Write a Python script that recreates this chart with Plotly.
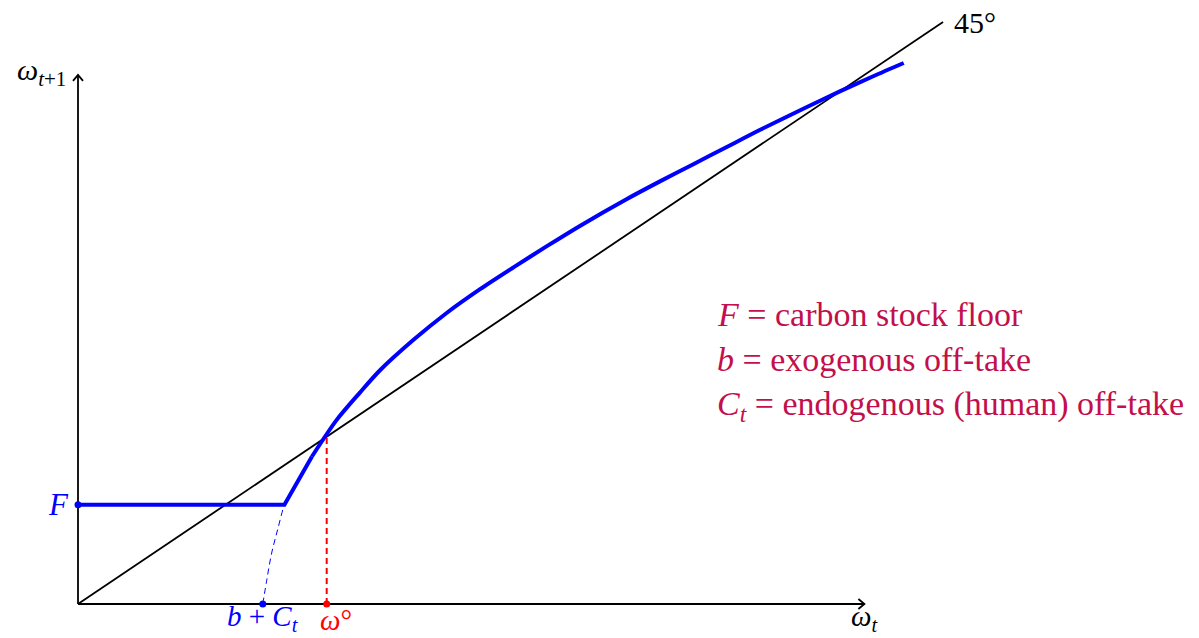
import plotly.graph_objects as go

# ---------------- data (model units) ----------------
F_floor = 1.5            # carbon stock floor F
b_plus_C = 1.88          # b + C_t
omega_star = 2.53        # steady state omega°
axis_len = 8.0
diag_end = 8.8

# blue transition map omega_{t+1} = f(omega_t)
omega_t = [0.0, 2.10, 2.38, 2.63, 2.87, 3.07, 3.41, 3.75, 4.09, 4.43, 4.77,
           5.11, 5.58, 5.92, 6.26, 6.60, 6.94, 7.41, 7.75, 8.09, 8.40]
omega_next = [1.50, 1.50, 2.23, 2.78, 3.20, 3.53, 3.99, 4.40, 4.76, 5.09, 5.41,
              5.72, 6.12, 6.39, 6.65, 6.91, 7.17, 7.51, 7.75, 7.98, 8.18]

# thin dashed continuation below the floor
dash_x = [1.88, 1.92, 1.97, 2.03, 2.09, 2.10]
dash_y = [0.00, 0.36, 0.77, 1.12, 1.46, 1.50]

legend_lines = ["<i>F</i> = carbon stock floor",
                "<i>b</i> = exogenous off-take",
                "<i>C<sub>t</sub></i> = endogenous (human) off-take"]

# ---------------- geometry of the canvas ----------------
W, H = 1199, 638
ox, oy = 78, 604          # pixel position of origin
sx, sy = 98.3, 66.14      # pixels per unit


def px2x(p):
    return (p - ox) / sx


def py2y(p):
    return (oy - p) / sy


BLUE = "#0000FF"
RED = "#FF0000"
CRIM = "rgb(195,15,75)"
FONT = "Liberation Serif"

fig = go.Figure()
LW = 1.8

# axes
fig.add_trace(go.Scatter(x=[0, axis_len], y=[0, 0], mode="lines",
                         line=dict(color="black", width=LW), hoverinfo="skip"))
fig.add_trace(go.Scatter(x=[0, 0], y=[0, axis_len], mode="lines",
                         line=dict(color="black", width=LW), hoverinfo="skip"))
# arrow tips
ax_, ay_ = 6 / sx, 5 / sy
fig.add_trace(go.Scatter(x=[axis_len - ax_, axis_len, axis_len - ax_],
                         y=[ay_, 0, -ay_], mode="lines",
                         line=dict(color="black", width=LW), hoverinfo="skip"))
bx_, by_ = 5 / sx, 6 / sy
fig.add_trace(go.Scatter(x=[-bx_, 0, bx_],
                         y=[axis_len - by_, axis_len, axis_len - by_], mode="lines",
                         line=dict(color="black", width=LW), hoverinfo="skip"))

# 45 degree line
fig.add_trace(go.Scatter(x=[0, diag_end], y=[0, diag_end], mode="lines",
                         line=dict(color="black", width=LW), hoverinfo="skip"))

# red dashed vertical at omega°
fig.add_trace(go.Scatter(x=[omega_star, omega_star], y=[0, omega_star], mode="lines",
                         line=dict(color=RED, width=2, dash="6px,4px"), hoverinfo="skip"))

# blue dashed thin arc
fig.add_trace(go.Scatter(x=dash_x, y=dash_y, mode="lines", line_shape="spline",
                         line=dict(color=BLUE, width=1, dash="6px,4px"), hoverinfo="skip"))

# blue main curve: straight floor + first segment, then smooth part
fig.add_trace(go.Scatter(x=omega_t[:3], y=omega_next[:3], mode="lines",
                         line=dict(color=BLUE, width=4), hoverinfo="skip"))
fig.add_trace(go.Scatter(x=omega_t[2:], y=omega_next[2:], mode="lines",
                         line_shape="spline",
                         line=dict(color=BLUE, width=4, smoothing=0.8), hoverinfo="skip"))

# dots
fig.add_trace(go.Scatter(x=[0, b_plus_C], y=[F_floor, 0], mode="markers",
                         marker=dict(color=BLUE, size=7), hoverinfo="skip"))
fig.add_trace(go.Scatter(x=[omega_star], y=[0], mode="markers",
                         marker=dict(color=RED, size=7), hoverinfo="skip"))

ann = []


def label(text, x, y, size, color="black", xanchor="center", yanchor="middle"):
    ann.append(dict(text=text, x=x, y=y, xref="x", yref="y", showarrow=False,
                    xanchor=xanchor, yanchor=yanchor, borderpad=0,
                    font=dict(family=FONT, size=size, color=color)))


label("45°", px2x(953), py2y(22), 30, xanchor="left")
label("<i>ω</i><sub><i>t</i>+1</sub>", px2x(67), py2y(72), 30, xanchor="right")
label("<i>ω</i><sub><i>t</i></sub>", px2x(864), py2y(637), 29, yanchor="bottom")
label("<i>F</i>", px2x(70), F_floor, 31, color=BLUE, xanchor="right")
label("<i>b</i> + <i>C<sub>t</sub></i>", b_plus_C, py2y(637), 29, color=BLUE, yanchor="bottom")
label("<i>ω</i>°", omega_star + 0.09, py2y(637), 29, color=RED, yanchor="bottom")

for i, t in enumerate(legend_lines):
    label(t, px2x(716), py2y([314, 359, 406][i]), 34, color=CRIM, xanchor="left")

fig.update_layout(
    width=W, height=H,
    margin=dict(l=0, r=0, t=0, b=0),
    paper_bgcolor="white", plot_bgcolor="white",
    showlegend=False,
    xaxis=dict(range=[px2x(0), px2x(W)], visible=False, fixedrange=True),
    yaxis=dict(range=[py2y(H), py2y(0)], visible=False, fixedrange=True),
    annotations=ann,
)

fig.write_html("out.html")
